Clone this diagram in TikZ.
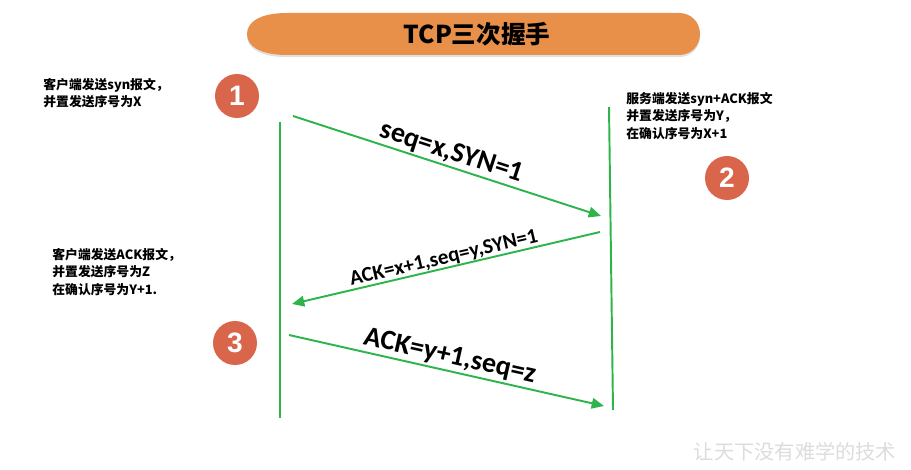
\documentclass[tikz,border=0pt]{standalone}
\usepackage{fontspec}
\setmainfont{Noto Sans CJK SC}
\newfontfamily\labelfont{Carlito}
\newfontfamily\numfont{Liberation Sans}
\usepackage{tikz}
\usetikzlibrary{arrows.meta, positioning, shadows}
\definecolor{flowgreen}{RGB}{45,180,75}
\definecolor{bannerorange}{RGB}{232,144,74}
\definecolor{steporange}{RGB}{217,101,74}
\definecolor{markgray}{RGB}{220,220,220}

\begin{document}
\begin{tikzpicture}[
  x=0.02cm, y=-0.02cm,
  >={Triangle[length=7pt,width=6pt]},
  banner/.style={fill=bannerorange,
                 drop shadow={fill=black!35, opacity=0.35, shadow xshift=0pt, shadow yshift=-1.2pt}},
  titlelbl/.style={inner sep=0pt, font=\fontsize{14}{16}\selectfont\bfseries},
  stepdot/.style={circle, fill=steporange, minimum size=0.88cm, inner sep=0pt,
                  text=white, font=\numfont\fontsize{16}{18}\selectfont\bfseries},
  note/.style={anchor=west, align=left, inner sep=0pt,
               font=\fontsize{7.3}{9.9}\selectfont\bfseries},
  lifeline/.style={draw=flowgreen, line width=1.1pt},
  msg/.style={->, draw=flowgreen, line width=1.1pt},
  msglbl/.style={sloped, above, midway, inner sep=1pt,
                 font=\labelfont\fontsize{16}{18}\selectfont\bfseries},
  smalllbl/.style={sloped, above, midway, inner sep=0pt,
                   font=\labelfont\fontsize{12}{14}\selectfont\bfseries},
]
\useasboundingbox (0,0) rectangle (911,469);

%% Title banner (long oval at the left, round at the right)
\fill[banner] (287,13) -- (679,13)
  .. controls (691,13) and (700,22) .. (700,34)
  .. controls (700,46) and (691,55) .. (679,55) -- (287,55)
  .. controls (260,55) and (247,46) .. (247,34)
  .. controls (247,22) and (260,13) .. cycle;
\node[titlelbl] (title) at (477,34) {TCP三次握手};

%% Step markers
\node[stepdot] (one)   at (237,96)  {1};
\node[stepdot] (two)   at (727,178) {2};
\node[stepdot] (three) at (235,343) {3};

%% Notes
\node[note] (noteA) at (43,93)  {客户端发送syn报文，\\并置发送序号为X};
\node[note] (noteB) at (626,116) {服务端发送syn+ACK报文\\并置发送序号为Y，\\在确认序号为X+1};
\node[note] (noteC) at (52,272) {客户端发送ACK报文，\\并置发送序号为Z\\在确认序号为Y+1.};

%% Lifelines
\coordinate (cliTop) at (280,122);
\coordinate (cliBot) at (280,418);
\coordinate (srvTop) at (609,107);
\coordinate (srvBot) at (613,410);
\draw[lifeline] (cliTop) -- (cliBot);
\draw[lifeline] (srvTop) -- (srvBot);

%% Messages
\coordinate (synFrom) at (293,116);
\coordinate (synTo)   at (601,216);
\coordinate (ackFrom) at (600,232);
\coordinate (ackTo)   at (292,304);
\coordinate (finFrom) at (289,335);
\coordinate (finTo)   at (604,406);
\draw[msg] (synFrom) -- (synTo) node[msglbl]{seq=x,SYN=1};
\draw[msg] (ackFrom) -- (ackTo) node[smalllbl]{ACK=x+1,seq=y,SYN=1};
\draw[msg] (finFrom) -- (finTo) node[msglbl]{ACK=y+1,seq=z};

%% Watermark
\node[text=markgray, font=\fontsize{11.5}{13}\selectfont] (motto) at (795,452) {让天下没有难学的技术};

\end{tikzpicture}
\end{document}
